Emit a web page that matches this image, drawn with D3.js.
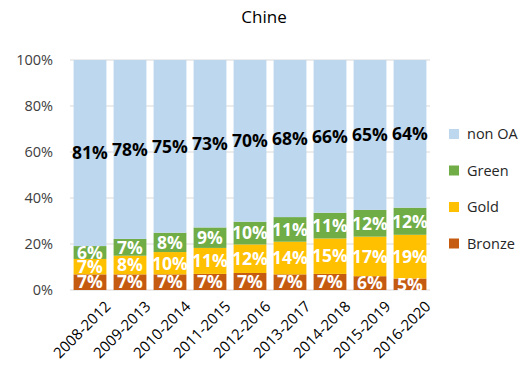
<!DOCTYPE html>
<html>
<head>
<meta charset="utf-8">
<script src="https://cdn.jsdelivr.net/npm/d3@7"></script>
<style>
  body { margin: 0; background: #fff; }
  svg { font-family: "Open Sans", "Liberation Sans", sans-serif; }
</style>
</head>
<body>
<div id="chart"></div>
<script>
// periods and shares (%) for each access type
const periods = ['2008-2012', '2009-2013', '2010-2014', '2011-2015', '2012-2016',
                 '2013-2017', '2014-2018', '2015-2019', '2016-2020'];
const bronze = [6.8, 6.8, 6.8, 7.0, 7.4, 6.8, 7.0, 6.0, 5.0];
const gold   = [6.7, 8.1, 9.7, 11.3, 12.4, 14.2, 15.4, 17.2, 19.0];
const green  = [5.6, 7.3, 8.4, 8.9, 9.9, 10.7, 11.2, 11.6, 11.8];
const nonOA  = [80.9, 77.8, 75.1, 72.8, 70.3, 68.3, 66.4, 65.2, 64.2];
const yTicks = [0, 20, 40, 60, 80, 100];

const seriesNames = ['Bronze', 'Gold', 'Green', 'non OA'];
const colors = { 'Bronze': '#C55A11', 'Gold': '#FFC000', 'Green': '#70AD47', 'non OA': '#BDD7EE' };
const labelColors = { 'Bronze': '#fff', 'Gold': '#fff', 'Green': '#fff', 'non OA': '#000' };

const rows = periods.map((p, i) => ({
    period: p, 'Bronze': bronze[i], 'Gold': gold[i], 'Green': green[i], 'non OA': nonOA[i]
}));

const width = 525, height = 376;
const margin = { top: 60, right: 95, bottom: 86, left: 70 };

const svg = d3.select('#chart').append('svg')
    .attr('width', width)
    .attr('height', height);

const x = d3.scaleBand().domain(periods)
    .range([margin.left, width - margin.right])
    .paddingInner(0.18).paddingOuter(0.09);
const y = d3.scaleLinear().domain([0, 100]).range([height - margin.bottom, margin.top]);

// title
svg.append('text')
    .attr('x', 264).attr('y', 23)
    .attr('text-anchor', 'middle')
    .style('font-size', '17px')
    .style('fill', '#000')
    .text('Chine');

// gridlines
svg.append('g').selectAll('line')
    .data(yTicks).enter().append('line')
    .attr('x1', margin.left).attr('x2', width - margin.right)
    .attr('y1', d => y(d)).attr('y2', d => y(d))
    .style('stroke', '#D9D9D9').style('stroke-width', 1);

// y axis labels
const yAxis = d3.axisLeft(y).tickValues(yTicks).tickFormat(d => d + '%').tickSize(0).tickPadding(17);
svg.append('g')
    .attr('transform', `translate(${margin.left},0)`)
    .call(yAxis)
    .call(g => g.select('.domain').remove())
    .selectAll('text')
    .style('font-size', '14.5px')
    .style('font-family', '"Open Sans", sans-serif')
    .style('fill', '#404040');

// stacked bars
const stack = d3.stack().keys(seriesNames);
const layers = stack(rows);

const layer = svg.append('g').selectAll('g')
    .data(layers).enter().append('g')
    .style('fill', d => colors[d.key]);

layer.selectAll('rect')
    .data(d => d).enter().append('rect')
    .attr('x', d => x(d.data.period))
    .attr('width', x.bandwidth())
    .attr('y', d => y(d[1]))
    .attr('height', d => y(d[0]) - y(d[1]));

// value labels
const labels = svg.append('g');
layers.forEach(l => {
    labels.selectAll('.lbl-' + l.index)
        .data(l).enter().append('text')
        .attr('x', d => x(d.data.period) + x.bandwidth() / 2)
        .attr('y', d => (y(d[0]) + y(d[1])) / 2)
        .attr('dy', '0.36em')
        .attr('text-anchor', 'middle')
        .style('font-size', '17.5px')
        .style('font-weight', 'bold')
        .style('fill', labelColors[l.key])
        .text(d => Math.round(d.data[l.key]) + '%');
});

// x axis
const xAxis = d3.axisBottom(x).tickSize(0).tickPadding(8);
svg.append('g')
    .attr('transform', `translate(0,${y(0)})`)
    .call(xAxis)
    .call(g => g.select('.domain').remove())
    .selectAll('text')
    .style('font-size', '15px')
    .style('font-family', '"Open Sans", sans-serif')
    .style('fill', '#000')
    .attr('text-anchor', 'end')
    .attr('dx', '0.2em')
    .attr('dy', '1.3em')
    .attr('transform', 'rotate(-45)');

// legend
const legendItems = ['non OA', 'Green', 'Gold', 'Bronze'];
const legend = svg.append('g').selectAll('g')
    .data(legendItems).enter().append('g')
    .attr('transform', (d, i) => `translate(449,${129 + i * 36.5})`);

legend.append('rect')
    .attr('width', 10).attr('height', 10)
    .style('fill', d => colors[d]);

legend.append('text')
    .attr('x', 18).attr('y', 5)
    .attr('dy', '0.35em')
    .style('font-size', '14.5px')
    .style('fill', '#262626')
    .text(d => d);
</script>
</body>
</html>
